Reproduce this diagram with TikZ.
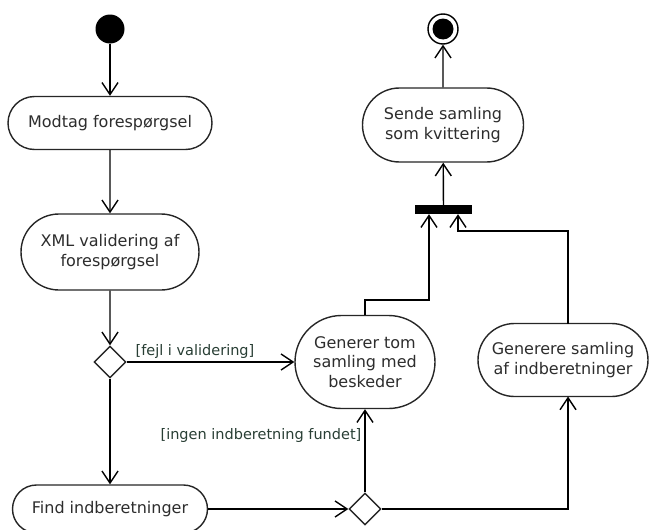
\documentclass[tikz,border=0pt]{standalone}
\usepackage{fontspec}
\setmainfont{DejaVu Sans}
\usetikzlibrary{arrows.meta,shapes.misc,shapes.geometric}
\definecolor{txt}{RGB}{45,45,45}
\definecolor{lbl}{RGB}{40,62,52}
\begin{document}
\begin{tikzpicture}[x=1pt,y=-1pt,
  act/.style={rounded rectangle, draw=black!85, line width=1.4pt, fill=white, text=txt,
    align=center, inner sep=0pt, font=\fontsize{16}{19.5}\selectfont},
  dec/.style={diamond, draw=black!85, line width=1.4pt, fill=white, minimum width=32pt, minimum height=32pt, inner sep=0pt},
  arr/.style={line width=1.4pt, -{Straight Barb[length=12pt,width=16pt,line width=1.4pt]}},
  lab/.style={text=lbl, font=\fontsize{14.5}{17}\selectfont, inner sep=0pt}]
\useasboundingbox (0,0) rectangle (649,530);
% nodes
\node[circle, fill=black, minimum size=29pt, inner sep=0pt] (start) at (110,29) {};
\node[act, minimum width=204pt, minimum height=53pt] (modtag) at (110,123) {Modtag forespørgsel};
\node[act, minimum width=178pt, minimum height=76pt] (xml) at (110,252) {XML validering af\\forespørgsel};
\node[dec] (d1) at (110,362) {};
\node[act, minimum width=195pt, minimum height=48pt] (find) at (110,509) {Find indberetninger};
\node[dec] (d2) at (365,509) {};
\node[act, minimum width=140pt, minimum height=93pt] (gen) at (365,362) {Generer tom\\samling med\\beskeder};
\node[act, minimum width=170pt, minimum height=73pt] (genr) at (563,360) {Generere samling\\af indberetninger};
\node[rectangle, fill=black, minimum width=57pt, minimum height=9pt, inner sep=0pt] (bar) at (443.5,209.5) {};
\node[act, minimum width=161pt, minimum height=74pt] (sende) at (443,125) {Sende samling\\som kvittering};
\node[circle, draw=black, line width=1.4pt, minimum size=30pt, inner sep=0pt] (end) at (443,29) {};
\fill (end.center) circle (10.5pt);
% labels
\node[lab] (l1) at (195,351) {[fejl i validering]};
\node[lab] (l2) at (261,435) {[ingen indberetning fundet]};
% coordinates
\coordinate (j1) at (429,300);
\coordinate (j2) at (458,231);
\coordinate (gt) at (568,323.5);
\coordinate (gb) at (568,396.5);
% edges
\draw[arr] (start) -- (modtag);
\draw[arr] (modtag) -- (xml);
\draw[arr] (xml) -- (d1);
\draw[arr] (d1.east) -- (d1.east -| gen.west);
\draw[arr] (d1) -- (find);
\draw[arr] (find.east) -- (d2.west);
\draw[arr] (d2) -- (gen);
\draw[arr] (d2.east) -- (d2.east -| gb) -- (gb);
\draw[arr] (gen.north) -- (gen.north |- j1) -- (j1) -- (j1 |- bar.south);
\draw[arr] (gt) -- (gt |- j2) -- (j2) -- (j2 |- bar.south);
\draw[arr] (bar) -- (sende);
\draw[arr] (sende) -- (end);
\end{tikzpicture}
\end{document}
